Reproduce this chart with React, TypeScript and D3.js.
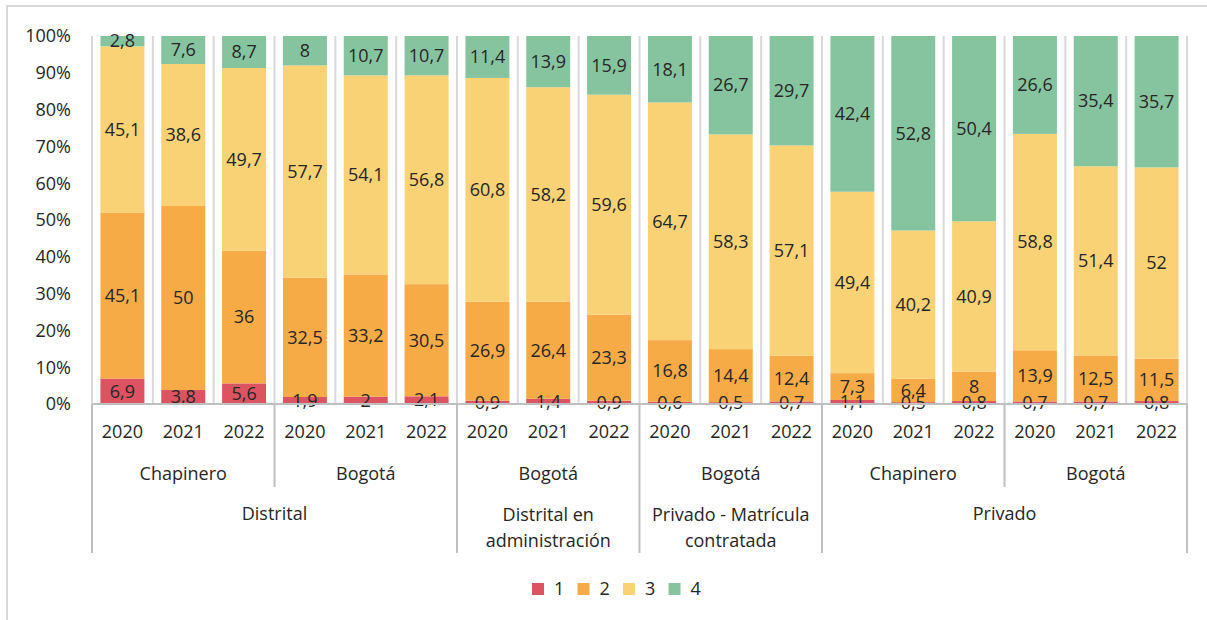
import React from "react";
import * as d3 from "d3";

const years = ["2020","2021","2022","2020","2021","2022","2020","2021","2022","2020","2021","2022","2020","2021","2022","2020","2021","2022"];
const places = ["Chapinero","Chapinero","Chapinero","Bogotá","Bogotá","Bogotá","Bogotá","Bogotá","Bogotá","Bogotá","Bogotá","Bogotá","Chapinero","Chapinero","Chapinero","Bogotá","Bogotá","Bogotá"];
const sectors = ["Distrital","Distrital","Distrital","Distrital","Distrital","Distrital","Distrital en\nadministración","Distrital en\nadministración","Distrital en\nadministración","Privado - Matrícula\ncontratada","Privado - Matrícula\ncontratada","Privado - Matrícula\ncontratada","Privado","Privado","Privado","Privado","Privado","Privado"];

const series1 = [6.9, 3.8, 5.6, 1.9, 2, 2.1, 0.9, 1.4, 0.9, 0.6, 0.5, 0.7, 1.1, 0.5, 0.8, 0.7, 0.7, 0.8];
const series2 = [45.1, 50, 36, 32.5, 33.2, 30.5, 26.9, 26.4, 23.3, 16.8, 14.4, 12.4, 7.3, 6.4, 8, 13.9, 12.5, 11.5];
const series3 = [45.1, 38.6, 49.7, 57.7, 54.1, 56.8, 60.8, 58.2, 59.6, 64.7, 58.3, 57.1, 49.4, 40.2, 40.9, 58.8, 51.4, 52];
const series4 = [2.8, 7.6, 8.7, 8, 10.7, 10.7, 11.4, 13.9, 15.9, 18.1, 26.7, 29.7, 42.4, 52.8, 50.4, 26.6, 35.4, 35.7];

const seriesNames = ["1", "2", "3", "4"];
const colors = ["#dc5462", "#f6ab47", "#f9d275", "#86c49f"];
const yTicks = [0, 0.1, 0.2, 0.3, 0.4, 0.5, 0.6, 0.7, 0.8, 0.9, 1];

const FONT = "'Open Sans', sans-serif";
const TXT = "#262626";

function groups(arr: string[], keyFn: (i: number) => string) {
  const out: { label: string; start: number; end: number }[] = [];
  arr.forEach((v, i) => {
    const k = keyFn(i);
    const last = out[out.length - 1];
    if (last && last.key === k) last.end = i;
    else out.push({ label: v, start: i, end: i, key: k } as any);
  });
  return out;
}

export default function App() {
  const left = 92, right = 1187, top = 36, bottom = 404;
  const idx = years.map((_, i) => i);
  const x = d3.scaleBand<number>().domain(idx).range([left, right]).paddingInner(0.277).paddingOuter(0.1385);
  const step = x.step();
  const y = d3.scaleLinear().domain([0, 1]).range([bottom, top]);
  const boundary = (i: number) => left + i * step;

  const allSeries = [series1, series2, series3, series4];
  const rows = idx.map((i) => {
    const o: any = { i };
    allSeries.forEach((s, k) => (o["s" + k] = s[i]));
    return o;
  });
  const keys = allSeries.map((_, k) => "s" + k);
  const stack = d3.stack<any>().keys(keys).offset(d3.stackOffsetExpand);
  const stacked = stack(rows);

  const sectorGroups = groups(sectors, (i) => sectors[i]);
  const placeGroups = groups(places, (i) => sectors[i] + "|" + places[i]);
  const sectorBounds = new Set<number>();
  sectorGroups.forEach((g) => { sectorBounds.add(g.start); sectorBounds.add(g.end + 1); });

  const fmt = (v: number) => String(v).replace(".", ",");

  const legendX0 = 532;
  const legendStep = 45.5;

  return (
    <svg width={1207} height={620} style={{ position: "absolute", left: 0, top: 0, background: "#fff" }} fontFamily={FONT}>
      <rect x={7} y={6} width={1300} height={700} fill="#fff" stroke="#d9d9d9" strokeWidth={2} />
      {/* vertical gridlines */}
      {d3.range(years.length + 1).map((i) => (
        <line key={"g" + i} x1={boundary(i)} x2={boundary(i)} y1={top} y2={bottom} stroke="#d9d9d9" strokeWidth={2} />
      ))}
      {/* bars */}
      {stacked.map((layer, k) => (
        <g key={"l" + k} fill={colors[k]}>
          {layer.map((d, i) => (
            <rect key={i} x={x(i)} width={x.bandwidth()} y={y(d[1])} height={y(d[0]) - y(d[1])} />
          ))}
        </g>
      ))}
      {/* data labels */}
      {stacked.map((layer, k) => (
        <g key={"t" + k} fontSize={18} fill={TXT} textAnchor="middle">
          {layer.map((d, i) => (
            <text key={i} x={(x(i) as number) + x.bandwidth() / 2} y={(y(d[0]) + y(d[1])) / 2} dy="0.35em">
              {fmt(allSeries[k][i])}
            </text>
          ))}
        </g>
      ))}
      {/* y axis labels */}
      {yTicks.map((t) => (
        <text key={"y" + t} x={71} y={y(t)} dy="0.35em" textAnchor="end" fontSize={18} fill={TXT}>
          {Math.round(t * 100) + "%"}
        </text>
      ))}
      {/* category axis line */}
      <line x1={left} x2={right} y1={bottom} y2={bottom} stroke="#bfbfbf" strokeWidth={2} />
      {/* year labels */}
      {years.map((yr, i) => (
        <text key={"yr" + i} x={(x(i) as number) + x.bandwidth() / 2} y={432} dy="0.35em" textAnchor="middle" fontSize={18} fill={TXT}>
          {yr}
        </text>
      ))}
      {/* place labels and separators */}
      {placeGroups.map((g, j) => (
        <text key={"p" + j} x={(boundary(g.start) + boundary(g.end + 1)) / 2} y={474} dy="0.35em" textAnchor="middle" fontSize={18} fill={TXT}>
          {g.label}
        </text>
      ))}
      {placeGroups.map((g, j) =>
        sectorBounds.has(g.start) ? null : (
          <line key={"ps" + j} x1={boundary(g.start)} x2={boundary(g.start)} y1={bottom} y2={487} stroke="#bfbfbf" strokeWidth={2} />
        )
      )}
      {Array.from(sectorBounds).map((b) => (
        <line key={"ss" + b} x1={boundary(b)} x2={boundary(b)} y1={bottom} y2={553} stroke="#bfbfbf" strokeWidth={2} />
      ))}
      {sectorGroups.map((g, j) => {
        const lines = g.label.split("\n");
        const cx = (boundary(g.start) + boundary(g.end + 1)) / 2;
        return (
          <text key={"s" + j} x={cx} y={lines.length === 1 ? 514 : 515} dy="0.35em" textAnchor="middle" fontSize={18} fill={TXT}>
            {lines.map((ln, li) => (
              <tspan key={li} x={cx} dy={li === 0 ? "0.35em" : 26}>{ln}</tspan>
            ))}
          </text>
        );
      })}
      {/* legend */}
      {seriesNames.map((n, k) => (
        <g key={"lg" + k} transform={`translate(${legendX0 + k * legendStep},0)`}>
          <rect x={0} y={583} width={12} height={12} fill={colors[k]} />
          <text x={22} y={589} dy="0.35em" fontSize={18} fill={TXT}>{n}</text>
        </g>
      ))}
    </svg>
  );
}
